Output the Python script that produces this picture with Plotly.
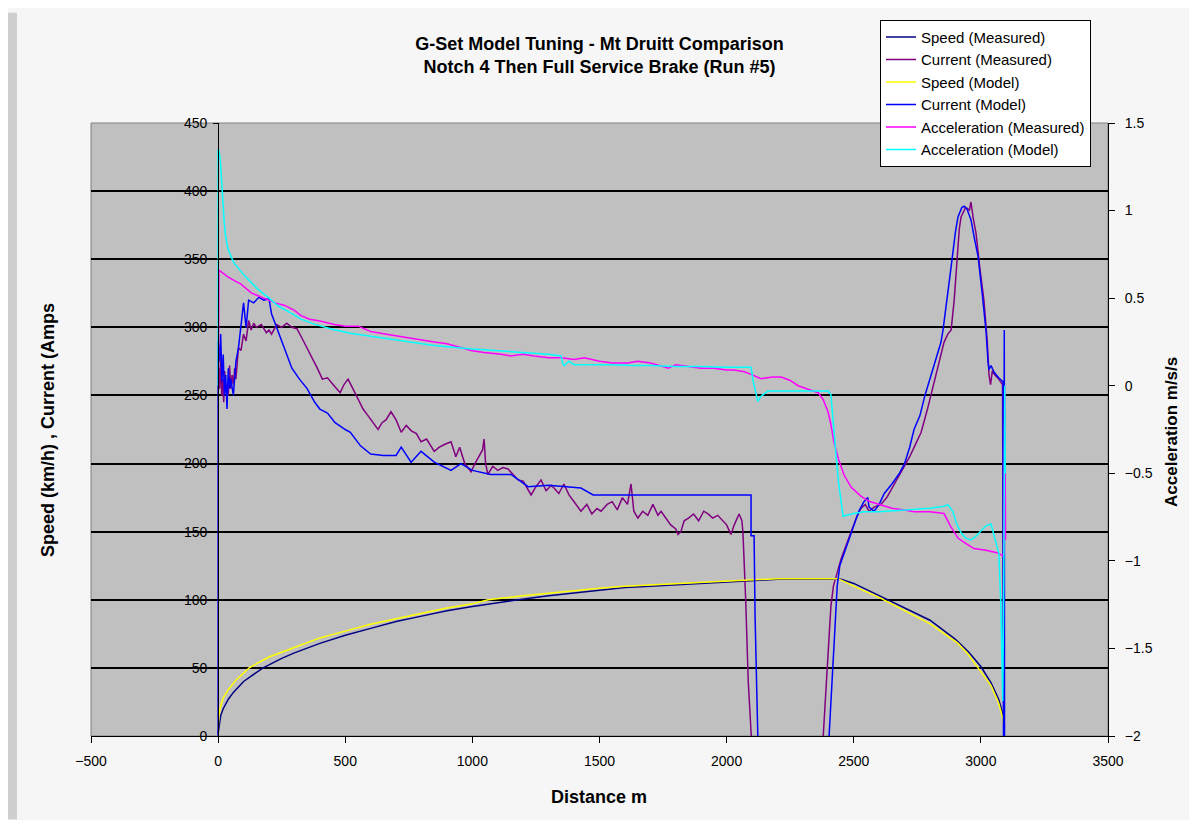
import plotly.graph_objects as go

# ---------------- data ----------------
speed_meas_d = [0, 5, 10, 20, 40, 60, 80, 100, 130, 177, 250, 300, 400, 500, 600, 700, 800, 900,
                1000, 1100, 1180, 1300, 1400, 1500, 1600, 1700, 1800, 1900, 2000, 2100, 2200, 2300,
                2400, 2450, 2500, 2600, 2700, 2800, 2900, 2950, 3000, 3040, 3070, 3085, 3093]
speed_meas_v = [2, 10, 15, 20, 27, 32, 36, 40, 44, 50, 57, 61, 68, 74, 79, 84, 88, 92,
                95, 98, 100, 103, 105, 107, 109, 110, 111, 112, 113, 114, 115, 115,
                115, 115, 112, 103, 94, 85, 71, 62, 51, 39, 27, 17, 6]

speed_model_d = [0, 3, 10, 20, 40, 70, 122, 200, 300, 400, 500, 600, 700, 800, 900, 1000, 1062,
                 1200, 1300, 1400, 1500, 1600, 1700, 1800, 1900, 2000, 2100, 2200, 2300, 2438,
                 2500, 2607, 2700, 2804, 2910, 2950, 2989, 3040, 3070, 3085, 3092]
speed_model_v = [5, 15, 22, 28, 34, 41, 50, 58, 65, 72, 77, 82, 86, 90, 94, 97, 100,
                 103, 105, 107, 108.5, 110, 111, 112, 113, 114, 115, 115.5, 115.5, 115.5,
                 110, 101, 92, 82, 68, 60, 50, 37, 24, 14, 5]

cur_model_d = [0, 0, 5, 10, 15, 20, 25, 30, 35, 40, 45, 50, 60, 70, 80, 90, 100, 110, 120, 140,
               160, 180, 200, 210, 230, 260, 290, 320, 350, 380, 400, 430, 460, 500, 520, 560,
               580, 600, 650, 700, 720, 759, 798, 850, 916, 955, 1000, 1073, 1152, 1219, 1300,
               1376, 1427, 1475, 1600, 1800, 2000, 2096, 2096, 2108, 2112, 2120, 2130, 2300,
               2395, 2403, 2415, 2425, 2435, 2445, 2460, 2480, 2500, 2520, 2540, 2555, 2560,
               2580, 2600, 2620, 2650, 2680, 2700, 2720, 2737, 2760, 2780, 2800, 2820, 2843,
               2851, 2860, 2880, 2900, 2910, 2925, 2934, 2945, 2961, 2975, 2989, 3005, 3020,
               3028, 3032, 3040, 3052, 3070, 3087, 3089, 3092, 3093]
cur_model_v = [0, 290, 275, 295, 260, 280, 250, 265, 240, 270, 255, 262, 250, 275, 285, 300,
               318, 300, 320, 318, 322, 320, 321, 310, 300, 285, 270, 262, 255, 245, 240, 237,
               230, 225, 223, 213, 210, 207, 206, 206, 212, 201, 209, 201, 195, 200, 195, 192,
               192, 183, 184, 183, 182, 177, 177, 177, 177, 177, 147, 147, 87, 0, -60, -60,
               -60, 0, 40, 80, 110, 125, 133, 145, 155, 165, 172, 175, 168, 165, 170, 178, 185,
               193, 200, 212, 225, 235, 250, 262, 275, 289, 298, 310, 340, 370, 381, 388, 389,
               387, 379, 365, 352, 325, 298, 275, 269, 272, 267, 263, 260, 0, 298, 0]

cur_meas_d = [0, 3, 6, 10, 14, 18, 22, 26, 30, 35, 40, 45, 50, 55, 60, 65, 70, 80, 90, 100,
              110, 120, 130, 140, 150, 170, 190, 200, 210, 230, 250, 270, 290, 310, 330, 350,
              366, 390, 410, 430, 457, 480, 495, 511, 530, 551, 570, 590, 610, 629, 645, 660,
              680, 700, 720, 740, 760, 780, 798, 820, 850, 870, 890, 916, 935, 950, 970, 995,
              1010, 1025, 1040, 1046, 1052, 1061, 1080, 1100, 1120, 1140, 1160, 1180, 1200,
              1215, 1231, 1250, 1270, 1290, 1310, 1321, 1340, 1360, 1380, 1400, 1427, 1450,
              1470, 1490, 1506, 1530, 1550, 1570, 1590, 1610, 1624, 1635, 1651, 1670, 1690,
              1710, 1730, 1742, 1760, 1780, 1800, 1809, 1820, 1833, 1850, 1870, 1890, 1910,
              1927, 1945, 1965, 1985, 2000, 2017, 2030, 2049, 2060, 2064, 2075, 2085, 2095,
              2104, 2115, 2300, 2370, 2380, 2390, 2400, 2410, 2420, 2438, 2450, 2470, 2490,
              2510, 2528, 2545, 2560, 2580, 2607, 2630, 2660, 2690, 2720, 2740, 2765, 2790,
              2810, 2830, 2855, 2870, 2883, 2895, 2905, 2915, 2922, 2940, 2955, 2961, 2970,
              2981, 2995, 3012, 3025, 3032, 3038, 3045, 3055, 3070, 3085, 3090]
cur_meas_v = [260, 270, 255, 280, 250, 262, 245, 268, 252, 258, 250, 272, 255, 265, 258, 270,
              262, 285, 283, 295, 290, 305, 298, 303, 300, 302, 296, 298, 295, 302, 300, 303,
              300, 299, 292, 285, 279, 270, 262, 263, 257, 252, 258, 262, 255, 247, 240, 235,
              230, 225, 230, 232, 238, 232, 223, 228, 224, 222, 216, 218, 209, 212, 214, 216,
              205, 212, 200, 194, 200, 205, 210, 218, 200, 192, 198, 195, 197, 196, 192, 188,
              187, 182, 177, 183, 188, 180, 184, 182, 178, 185, 177, 172, 165, 170, 163, 167,
              165, 170, 172, 166, 175, 170, 185, 165, 160, 165, 162, 170, 162, 165, 160, 155,
              152, 148, 150, 158, 160, 163, 158, 165, 163, 160, 162, 158, 155, 148, 155, 163,
              158, 150, 100, 40, 10, -10, -60, -60, -60, 0, 35, 70, 95, 110, 123, 130, 140,
              150, 160, 167, 170, 165, 168, 170, 175, 185, 195, 205, 213, 223, 240, 255, 270,
              289, 295, 298, 320, 350, 372, 381, 388, 386, 392, 380, 369, 345, 320, 290, 265,
              258, 268, 265, 262, 258, 0]

acc_meas_d = [0, 1, 3, 20, 40, 64, 90, 130, 160, 196, 230, 260, 300, 326, 360, 400, 457, 500,
              551, 600, 680, 720, 760, 800, 850, 900, 950, 1000, 1046, 1113, 1150, 1200, 1243,
              1300, 1350, 1400, 1440, 1500, 1550, 1612, 1650, 1700, 1750, 1770, 1800, 1850,
              1900, 1950, 2000, 2029, 2070, 2096, 2135, 2180, 2214, 2250, 2281, 2320, 2360,
              2380, 2399, 2410, 2422, 2440, 2462, 2490, 2528, 2560, 2607, 2650, 2700, 2737,
              2800, 2855, 2880, 2900, 2910, 2940, 2973, 3020, 3067, 3085, 3090, 3094, 3096,
              3097]
acc_meas_a = [0.0, 0.0, 0.66, 0.64, 0.62, 0.60, 0.58, 0.53, 0.51, 0.49, 0.47, 0.46, 0.43,
              0.40, 0.38, 0.37, 0.35, 0.34, 0.34, 0.31, 0.29, 0.28, 0.27, 0.26, 0.25, 0.24,
              0.22, 0.20, 0.19, 0.18, 0.17, 0.18, 0.17, 0.16, 0.16, 0.15, 0.16, 0.14, 0.13,
              0.13, 0.14, 0.13, 0.11, 0.10, 0.12, 0.11, 0.10, 0.10, 0.09, 0.09, 0.08, 0.065,
              0.04, 0.05, 0.05, 0.03, 0.0, -0.02, -0.04, -0.08, -0.15, -0.22, -0.32, -0.42,
              -0.51, -0.58, -0.63, -0.66, -0.68, -0.70, -0.71, -0.72, -0.72, -0.73, -0.80,
              -0.85, -0.87, -0.90, -0.93, -0.94, -0.955, -0.97, -0.96, 0.0, -0.65, -0.88]

acc_model_d = [0, 0, 3, 8, 12, 18, 24, 30, 39, 50, 63, 80, 102, 130, 157, 200, 236, 280, 326,
               380, 457, 520, 590, 700, 850, 1000, 1113, 1200, 1298, 1349, 1355, 1361, 1380,
               1400, 1455, 1550, 1636, 1700, 1800, 1900, 2000, 2096, 2105, 2115, 2123, 2135,
               2163, 2250, 2399, 2410, 2420, 2430, 2440, 2450, 2458, 2500, 2540, 2600, 2650,
               2737, 2800, 2850, 2871, 2890, 2905, 2922, 2940, 2961, 2980, 3000, 3020, 3040,
               3050, 3060, 3071, 3079, 3086, 3090, 3094, 3096]
acc_model_a = [0.0, 1.35, 1.34, 1.30, 1.21, 1.05, 0.93, 0.85, 0.78, 0.74, 0.70, 0.67, 0.63,
               0.59, 0.55, 0.50, 0.455, 0.42, 0.38, 0.35, 0.32, 0.30, 0.285, 0.26, 0.23, 0.21,
               0.20, 0.19, 0.18, 0.17, 0.13, 0.115, 0.14, 0.12, 0.12, 0.12, 0.115, 0.115, 0.11,
               0.11, 0.105, 0.105, 0.02, -0.05, -0.09, -0.06, -0.03, -0.03, -0.03, -0.05,
               -0.20, -0.39, -0.55, -0.68, -0.745, -0.73, -0.72, -0.72, -0.715, -0.71, -0.70,
               -0.69, -0.68, -0.72, -0.79, -0.84, -0.87, -0.88, -0.86, -0.83, -0.80, -0.79,
               -0.85, -0.90, -0.96, -1.27, -1.80, -1.10, 0.0, -0.50]

x_ticks = [-500, 0, 500, 1000, 1500, 2000, 2500, 3000, 3500]
y_ticks = [0, 50, 100, 150, 200, 250, 300, 350, 400, 450]
y2_ticks = [-2, -1.5, -1, -0.5, 0, 0.5, 1, 1.5]

FONT = "Liberation Sans, Arial, sans-serif"

fig = go.Figure()
fig.add_trace(go.Scatter(x=speed_meas_d, y=speed_meas_v, name="Speed (Measured)",
                         mode="lines", line=dict(color="#000080", width=1.5)))
fig.add_trace(go.Scatter(x=cur_meas_d, y=cur_meas_v, name="Current (Measured)",
                         mode="lines", line=dict(color="#800080", width=1.5)))
fig.add_trace(go.Scatter(x=speed_model_d, y=speed_model_v, name="Speed (Model)",
                         mode="lines", line=dict(color="#FFFF00", width=1.5)))
fig.add_trace(go.Scatter(x=cur_model_d, y=cur_model_v, name="Current (Model)",
                         mode="lines", line=dict(color="#0000FF", width=1.5)))
fig.add_trace(go.Scatter(x=acc_meas_d, y=acc_meas_a, name="Acceleration (Measured)",
                         mode="lines", yaxis="y2", line=dict(color="#FF00FF", width=1.5)))
fig.add_trace(go.Scatter(x=acc_model_d, y=acc_model_a, name="Acceleration (Model)",
                         mode="lines", yaxis="y2", line=dict(color="#00FFFF", width=1.5)))

# the page body adds an 8px offset; layout below is expressed in window pixels
OFF = 8
W, H = 1197 - OFF, 820 - OFF
PL, PR, PT, PB = 91, 1108, 119, 736          # plot area in window pixels
L, R, T, B = PL - OFF, W - (PR - OFF), PT - OFF, H - (PB - OFF)
pw, ph = PR - PL, PB - PT


def px_x(px):
    return (px - PL) / pw


def px_y(py):
    return (PB - py) / ph


fig.update_layout(
    width=W, height=H,
    margin=dict(l=L, r=R, t=T, b=B, pad=0),
    paper_bgcolor="#f6f6f6",
    plot_bgcolor="#c0c0c0",
    font=dict(family=FONT, color="black", size=14),
    title=dict(text="<b>G-Set Model Tuning - Mt Druitt Comparison<br>Notch 4 Then Full Service Brake (Run #5)</b>",
               x=0.5, xanchor="center", xref="paper", y=1 - 42 / H, yref="container",
               yanchor="top", font=dict(size=18, family=FONT)),
    showlegend=True,
    legend=dict(x=px_x(880), y=px_y(15), xanchor="left", yanchor="top",
                bgcolor="white", bordercolor="black", borderwidth=1,
                font=dict(size=15, family=FONT), itemwidth=30, tracegroupgap=0),
    xaxis=dict(range=[-500, 3500], tickvals=x_ticks, showgrid=False, zeroline=False,
               showline=True, linecolor="black", linewidth=1, ticks="outside", ticklen=6,
               tickcolor="black", tickfont=dict(size=14), ticklabelstandoff=6),
    yaxis=dict(range=[0, 450], tickvals=y_ticks, anchor="free", position=0.125,
               showgrid=True, gridcolor="black", gridwidth=1.5, zeroline=False,
               showline=True, linecolor="black", ticks="outside", ticklen=5,
               tickcolor="black", tickfont=dict(size=14), ticklabelstandoff=3),
    yaxis2=dict(range=[-2, 1.5], tickvals=y2_ticks, overlaying="y", side="right",
                anchor="x", showgrid=False, zeroline=False, showline=True,
                linecolor="black", ticks="outside", ticklen=6, tickcolor="black",
                tickfont=dict(size=14), ticklabelstandoff=7),
)

# plot-area border and slide background accent
fig.add_shape(type="rect", xref="paper", yref="paper", x0=0, x1=1, y0=0, y1=1,
              line=dict(color="#808080", width=1), fillcolor="rgba(0,0,0,0)", layer="below")
fig.add_shape(type="rect", xref="paper", yref="paper", x0=px_x(OFF), x1=px_x(17),
              y0=px_y(820), y1=px_y(OFF), line=dict(width=0), fillcolor="#cfcfcf", layer="below")

# axis titles
fig.add_annotation(text="<b>Speed (km/h) , Current (Amps</b>", xref="paper", yref="paper",
                   x=px_x(48), y=px_y(428), textangle=-90, showarrow=False,
                   font=dict(size=18, family=FONT), xanchor="center", yanchor="middle")
fig.add_annotation(text="<b>Acceleration m/s/s</b>", xref="paper", yref="paper",
                   x=px_x(1172), y=px_y(430), textangle=-90, showarrow=False,
                   font=dict(size=17, family=FONT), xanchor="center", yanchor="middle")
fig.add_annotation(text="<b>Distance m</b>", xref="paper", yref="paper",
                   x=px_x(599), y=px_y(797), showarrow=False,
                   font=dict(size=18, family=FONT), xanchor="center", yanchor="middle")

fig.write_html("out.html")
